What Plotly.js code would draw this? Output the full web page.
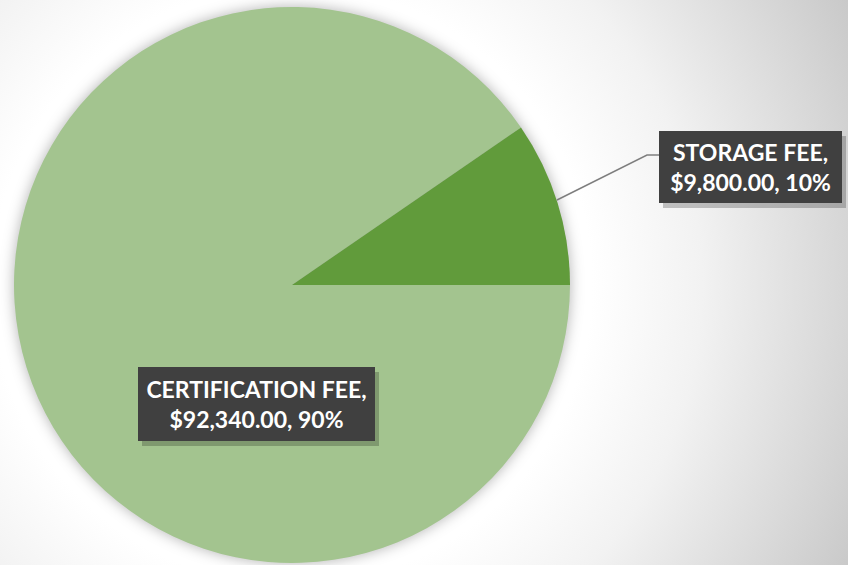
<!DOCTYPE html>
<html>
<head>
<meta charset="utf-8">
<script src="https://cdn.plot.ly/plotly-3.0.1.min.js"></script>
<style>
  html, body { margin: 0; padding: 0; }
  body {
    width: 848px; height: 565px; overflow: hidden;
    background: radial-gradient(circle at 292px 285px, #ffffff 0px, #ffffff 300px, #f2f2f2 410px, #c6c6c6 640px);
  }
  #chart { width: 848px; height: 565px; }
  .pielayer { filter: drop-shadow(0px 0px 7px rgba(0,0,0,0.3)); }
</style>
</head>
<body>
<div id="chart"></div>
<script>
// Data
const categories = ["CERTIFICATION FEE", "STORAGE FEE"];
const values = [92340, 9800];
const colors = ["#a3c48f", "#619b3b"];

const total = values.reduce((a, b) => a + b, 0);
const fmt = v => "$" + v.toLocaleString("en-US", {minimumFractionDigits: 2, maximumFractionDigits: 2});
const labelText = i => categories[i] + ",<br>" + fmt(values[i]) + ", " + Math.round(values[i] / total * 100) + "%";

const W = 848, H = 565;
const px = x => x / W;
const py = y => 1 - y / H;

const trace = {
  type: "pie",
  labels: categories,
  values: values,
  sort: false,
  direction: "clockwise",
  rotation: 90,
  marker: { colors: colors, line: { width: 0 } },
  textinfo: "none",
  hoverinfo: "none",
  showlegend: false,
  domain: { x: [px(14), px(570)], y: [py(563), py(7)] }
};

// label boxes (pixel layout), same order as categories
const boxes = [
  { x0: 138, x1: 375, y0: 367, y1: 441 },
  { x0: 659, x1: 842, y0: 131, y1: 203 }
];

const shapes = [];
boxes.forEach(b => {
  shapes.push({
    type: "rect", xref: "paper", yref: "paper", layer: "above",
    x0: px(b.x0 + 4), x1: px(b.x1 + 4), y0: py(b.y1 + 5), y1: py(b.y0 + 5),
    fillcolor: "rgba(0,0,0,0.22)", line: { width: 0 }
  });
});
// leader line for storage fee
shapes.push({
  type: "path", xref: "paper", yref: "paper", layer: "above",
  path: "M " + px(557) + " " + py(200) + " L " + px(647) + " " + py(155) + " L " + px(659) + " " + py(155),
  line: { color: "#7f7f7f", width: 1.5 }
});

const annotations = boxes.map((b, i) => ({
  xref: "paper", yref: "paper",
  x: px((b.x0 + b.x1) / 2), y: py((b.y0 + b.y1) / 2),
  xanchor: "center", yanchor: "middle",
  text: labelText(i),
  showarrow: false,
  align: "center",
  width: b.x1 - b.x0, height: b.y1 - b.y0,
  borderpad: 0, borderwidth: 0,
  bgcolor: "#404040",
  font: { family: "Lato, 'Open Sans', sans-serif", size: 23, color: "#ffffff", weight: "bold" }
}));

const layout = {
  width: W, height: H,
  margin: { l: 0, r: 0, t: 0, b: 0 },
  paper_bgcolor: "rgba(0,0,0,0)",
  plot_bgcolor: "rgba(0,0,0,0)",
  shapes: shapes,
  annotations: annotations
};

Plotly.newPlot("chart", [trace], layout, { displayModeBar: false, staticPlot: true });
</script>
</body>
</html>
